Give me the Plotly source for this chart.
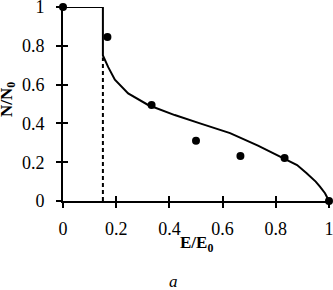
import plotly.graph_objects as go

# Experimental points
pts_x = [0.0, 0.167, 0.333, 0.5, 0.667, 0.833, 1.0]
pts_y = [1.0, 0.845, 0.495, 0.31, 0.232, 0.222, 0.0]

# Model curve
curve_x = [0.0, 0.15, 0.15, 0.16, 0.17, 0.195, 0.245, 0.32, 0.42, 0.515, 0.628,
           0.733, 0.828, 0.88, 0.916, 0.95, 0.966, 0.985, 1.0]
curve_y = [1.0, 1.0, 0.75, 0.72, 0.69, 0.625, 0.555, 0.495, 0.443, 0.40, 0.35,
           0.285, 0.22, 0.185, 0.143, 0.10, 0.074, 0.04, 0.0]

# Dashed threshold line
dash_x = [0.15, 0.15]
dash_y = [0.0, 0.74]

tick_vals = [0, 0.2, 0.4, 0.6, 0.8, 1]
tick_text = ["0", "0.2", "0.4", "0.6", "0.8", "1"]

FONT = "Liberation Serif"

fig = go.Figure()
fig.add_trace(go.Scatter(x=dash_x, y=dash_y, mode="lines",
                         line=dict(color="black", width=2, dash="4px,3px"),
                         showlegend=False, hoverinfo="skip", cliponaxis=False))
fig.add_trace(go.Scatter(x=curve_x, y=curve_y, mode="lines",
                         line=dict(color="black", width=2),
                         showlegend=False, cliponaxis=False))
fig.add_trace(go.Scatter(x=pts_x, y=pts_y, mode="markers",
                         marker=dict(color="black", size=8),
                         showlegend=False, cliponaxis=False))

axis_common = dict(range=[0, 1], showgrid=False, zeroline=False,
                   tickvals=tick_vals, ticktext=tick_text, automargin=False,
                   tickcolor="black", tickwidth=1.5, ticklen=5)

fig.update_layout(
    width=333, height=290,
    margin=dict(l=63, r=4, t=7, b=89),
    plot_bgcolor="white", paper_bgcolor="white",
    font=dict(family=FONT, size=17, color="black"),
    xaxis=dict(**axis_common, ticks="outside", showline=True, linecolor="black",
               linewidth=1.5, tickfont=dict(family=FONT, size=18),
               ticklabelstandoff=6, ticklabeloverflow="allow"),
    yaxis=dict(**axis_common, ticks="outside", showline=True, linecolor="black",
               linewidth=2, tickfont=dict(family=FONT, size=18),
               ticklabelstandoff=8, ticklabeloverflow="allow"),
    xaxis2=dict(**axis_common, overlaying="x", ticks="inside",
                showticklabels=False, showline=False),
    yaxis2=dict(**axis_common, overlaying="y", ticks="inside",
                showticklabels=False, showline=False),
)
# invisible trace to activate the overlay axes (inside half of crossing ticks)
fig.add_trace(go.Scatter(x=[0], y=[0], xaxis="x2", yaxis="y2", mode="markers",
                         marker=dict(opacity=0), showlegend=False, hoverinfo="skip"))

fig.add_annotation(text="<b>E/E<sub>0</sub></b>", xref="paper", yref="paper",
                   x=0.5, y=0, xanchor="center", yanchor="middle", yshift=-43,
                   showarrow=False, font=dict(family=FONT, size=17))
fig.add_annotation(text="<b>N/N<sub>0</sub></b>", xref="paper", yref="paper",
                   x=0, y=0.52, xanchor="center", yanchor="middle", xshift=-55,
                   textangle=-90, showarrow=False, font=dict(family=FONT, size=17))
fig.add_annotation(text="<i>a</i>", xref="paper", yref="paper",
                   x=0.414, y=0, xanchor="center", yanchor="middle", yshift=-80,
                   showarrow=False, font=dict(family=FONT, size=17))

fig.write_html("out.html", config={"displayModeBar": False},
               post_script="document.body.style.margin='0';document.body.style.padding='0';")
